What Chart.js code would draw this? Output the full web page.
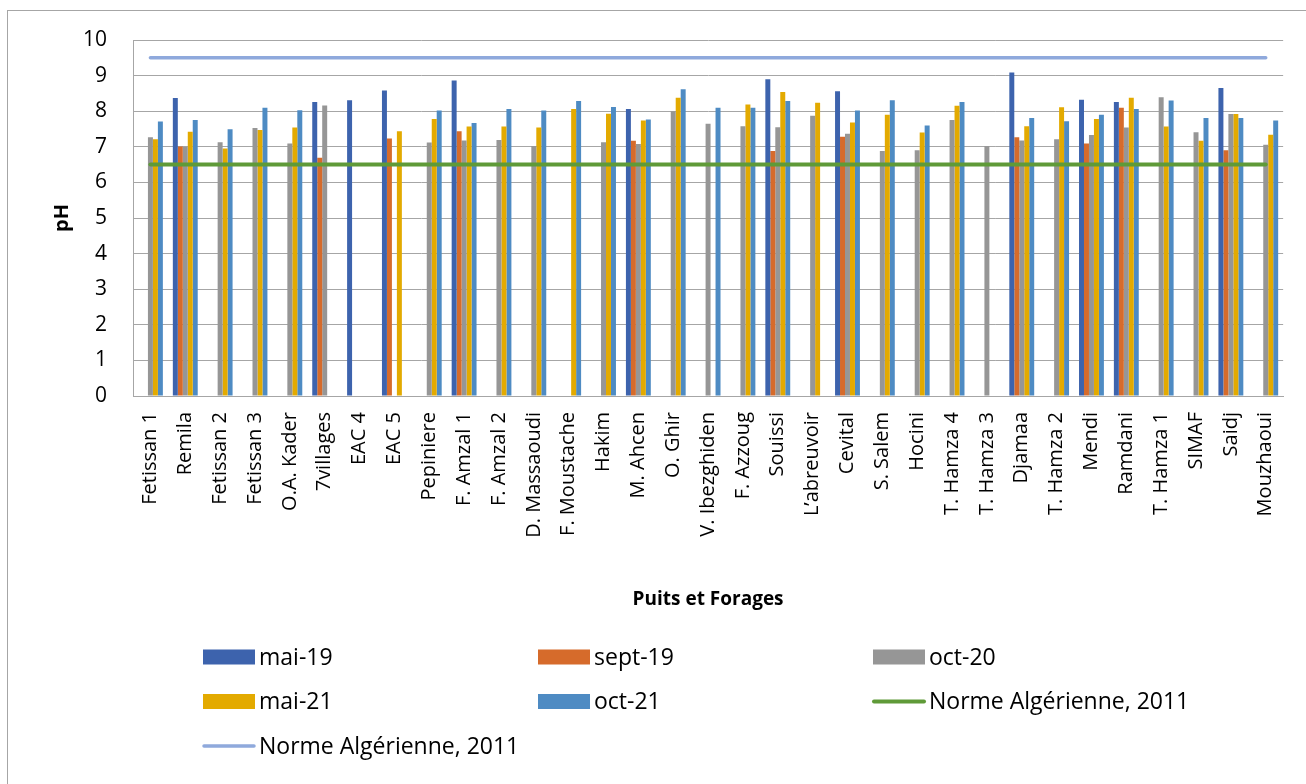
<!DOCTYPE html>
<html>
<head>
<meta charset="utf-8">
<script src="https://cdn.jsdelivr.net/npm/chart.js@4.4.1/dist/chart.umd.min.js"></script>
<style>
  html, body { margin: 0; padding: 0; background: #fff; overflow: hidden; }
  #frame { position: absolute; left: 7px; top: 10px; width: 1330px; height: 810px; border: 1px solid #a6a6a6; box-sizing: border-box; }
  #wrap { position: absolute; left: 0; top: 0; width: 1306px; height: 784px; }
</style>
</head>
<body>
<div id="frame"></div>
<div id="wrap"><canvas id="c" width="1306" height="784"></canvas></div>
<script>
// Wells and boreholes sampled
const categories = ['Fetissan 1', 'Remila', 'Fetissan 2', 'Fetissan 3', 'O.A. Kader', '7villages', 'EAC 4', 'EAC 5',
  'Pepiniere', 'F. Amzal 1', 'F. Amzal 2', 'D. Massaoudi', 'F. Moustache', 'Hakim', 'M. Ahcen', 'O. Ghir',
  'V. Ibezghiden', 'F. Azzoug', 'Souissi', 'L\u2019abreuvoir', 'Cevital', 'S. Salem', 'Hocini', 'T. Hamza 4',
  'T. Hamza 3', 'Djamaa', 'T. Hamza 2', 'Mendi', 'Ramdani', 'T. Hamza 1', 'SIMAF', 'Saidj', 'Mouzhaoui'];

// pH per sampling campaign (null = not sampled)
const mai19 = [null, 8.37, null, null, null, 8.26, 8.31, 8.58, null, 8.86, null, null, null, null, 8.06, null,
  null, null, 8.90, null, 8.56, null, null, null, null, 9.09, null, 8.32, 8.26, null, null, 8.65, null];
const sept19 = [null, 7.01, null, null, null, 6.69, null, 7.23, null, 7.44, null, null, null, null, 7.17, null,
  null, null, 6.88, null, 7.28, null, null, null, null, 7.27, null, 7.09, 8.10, null, null, 6.90, null];
const oct20 = [7.27, 7.00, 7.13, 7.53, 7.09, 8.16, null, null, 7.12, 7.18, 7.19, 7.02, null, 7.13, 7.08, 8.00,
  7.65, 7.58, 7.55, 7.87, 7.37, 6.88, 6.90, 7.75, 7.02, 7.18, 7.21, 7.33, 7.54, 8.39, 7.41, 7.92, 7.06];
const mai21 = [7.21, 7.42, 6.95, 7.47, 7.54, null, null, 7.44, 7.78, 7.57, 7.57, 7.54, 8.06, 7.93, 7.74, 8.38,
  null, 8.19, 8.54, 8.24, 7.68, 7.90, 7.40, 8.15, null, 7.58, 8.11, 7.78, 8.38, 7.57, 7.17, 7.92, 7.34];
const oct21 = [7.71, 7.75, 7.49, 8.10, 8.03, null, null, null, 8.02, 7.67, 8.06, 8.02, 8.29, 8.12, 7.77, 8.62,
  8.10, 8.10, 8.29, null, 8.02, 8.31, 7.60, 8.26, null, 7.81, 7.72, 7.90, 8.06, 8.30, 7.81, 7.81, 7.74];

// Algerian drinking-water limits (2011)
const normeMin = 6.5;
const normeMax = 9.5;

const yTicks = [0, 1, 2, 3, 4, 5, 6, 7, 8, 9, 10];

const FONT = '"Open Sans", "DejaVu Sans", sans-serif';

function barSet(label, data, color) {
  return { type: 'bar', label, data, backgroundColor: color, borderWidth: 0,
    categoryPercentage: 0.714, barPercentage: 1.0, order: 2 };
}
function limitSet(label, value, color, width) {
  return { type: 'line', label, data: categories.map(() => value), borderColor: color, backgroundColor: color,
    borderWidth: width, pointRadius: 0, pointHoverRadius: 0, borderCapStyle: 'round', fill: false, order: 0 };
}

// Legend laid out as a three-column grid under the axis title
const gridLegend = {
  id: 'gridLegend',
  afterDraw(chart) {
    const ctx = chart.ctx;
    ctx.save();
    ctx.font = '23px ' + FONT;
    ctx.textBaseline = 'middle';
    ctx.textAlign = 'left';
    chart.data.datasets.forEach((ds, i) => {
      const col = i % 3, row = Math.floor(i / 3);
      const x = 203 + col * 335;
      const y = 657 + row * 44.5;
      if (ds.type === 'line') {
        ctx.strokeStyle = ds.borderColor;
        ctx.lineWidth = ds.borderWidth;
        ctx.lineCap = 'round';
        ctx.beginPath();
        ctx.moveTo(x + 1, y);
        ctx.lineTo(x + 51, y);
        ctx.stroke();
      } else {
        ctx.fillStyle = ds.backgroundColor;
        ctx.fillRect(x, y - 7.5, 52, 15);
      }
      ctx.fillStyle = '#000';
      ctx.fillText(ds.label, x + 56, y + 1);
    });
    ctx.restore();
  }
};

new Chart(document.getElementById('c'), {
  data: {
    labels: categories,
    datasets: [
      barSet('mai-19', mai19, '#3d63ad'),
      barSet('sept-19', sept19, '#d66b2b'),
      barSet('oct-20', oct20, '#969696'),
      barSet('mai-21', mai21, '#e3aa00'),
      barSet('oct-21', oct21, '#4e8bc3'),
      limitSet('Norme Alg\u00e9rienne, 2011', normeMin, '#5f9a38', 4),
      limitSet('Norme Alg\u00e9rienne, 2011', normeMax, '#8fa9dc', 3.5)
    ]
  },
  options: {
    responsive: false,
    animation: false,
    layout: { padding: { left: 0, top: 40, right: 18, bottom: 164 } },
    plugins: { legend: { display: false }, tooltip: { enabled: false } },
    scales: {
      x: {
        offset: true,
        grid: { display: false, drawTicks: false },
        border: { display: true, color: '#a6a6a6', width: 1 },
        ticks: { autoSkip: false, minRotation: 90, maxRotation: 90, padding: 16, color: '#000',
          font: { family: FONT, size: 20 } },
        title: { display: true, text: 'Puits et Forages', color: '#000',
          font: { family: FONT, size: 19, weight: 'bold' }, padding: { top: 0, bottom: 9 } },
        afterFit(s) { s.height = 224; }
      },
      y: {
        min: 0, max: 10,
        afterBuildTicks(s) { s.ticks = yTicks.map(v => ({ value: v })); },
        grid: { color: '#a6a6a6', lineWidth: 1, drawTicks: false },
        border: { display: true, color: '#a6a6a6', width: 1 },
        ticks: { padding: 26, color: '#000', font: { family: FONT, size: 21 } },
        title: { display: true, text: 'pH', color: '#000',
          font: { family: FONT, size: 20, weight: 'bold' }, padding: { top: 50, bottom: 0 } },
        afterFit(s) { s.width = 133; }
      }
    }
  },
  plugins: [gridLegend]
});
</script>
</body>
</html>
